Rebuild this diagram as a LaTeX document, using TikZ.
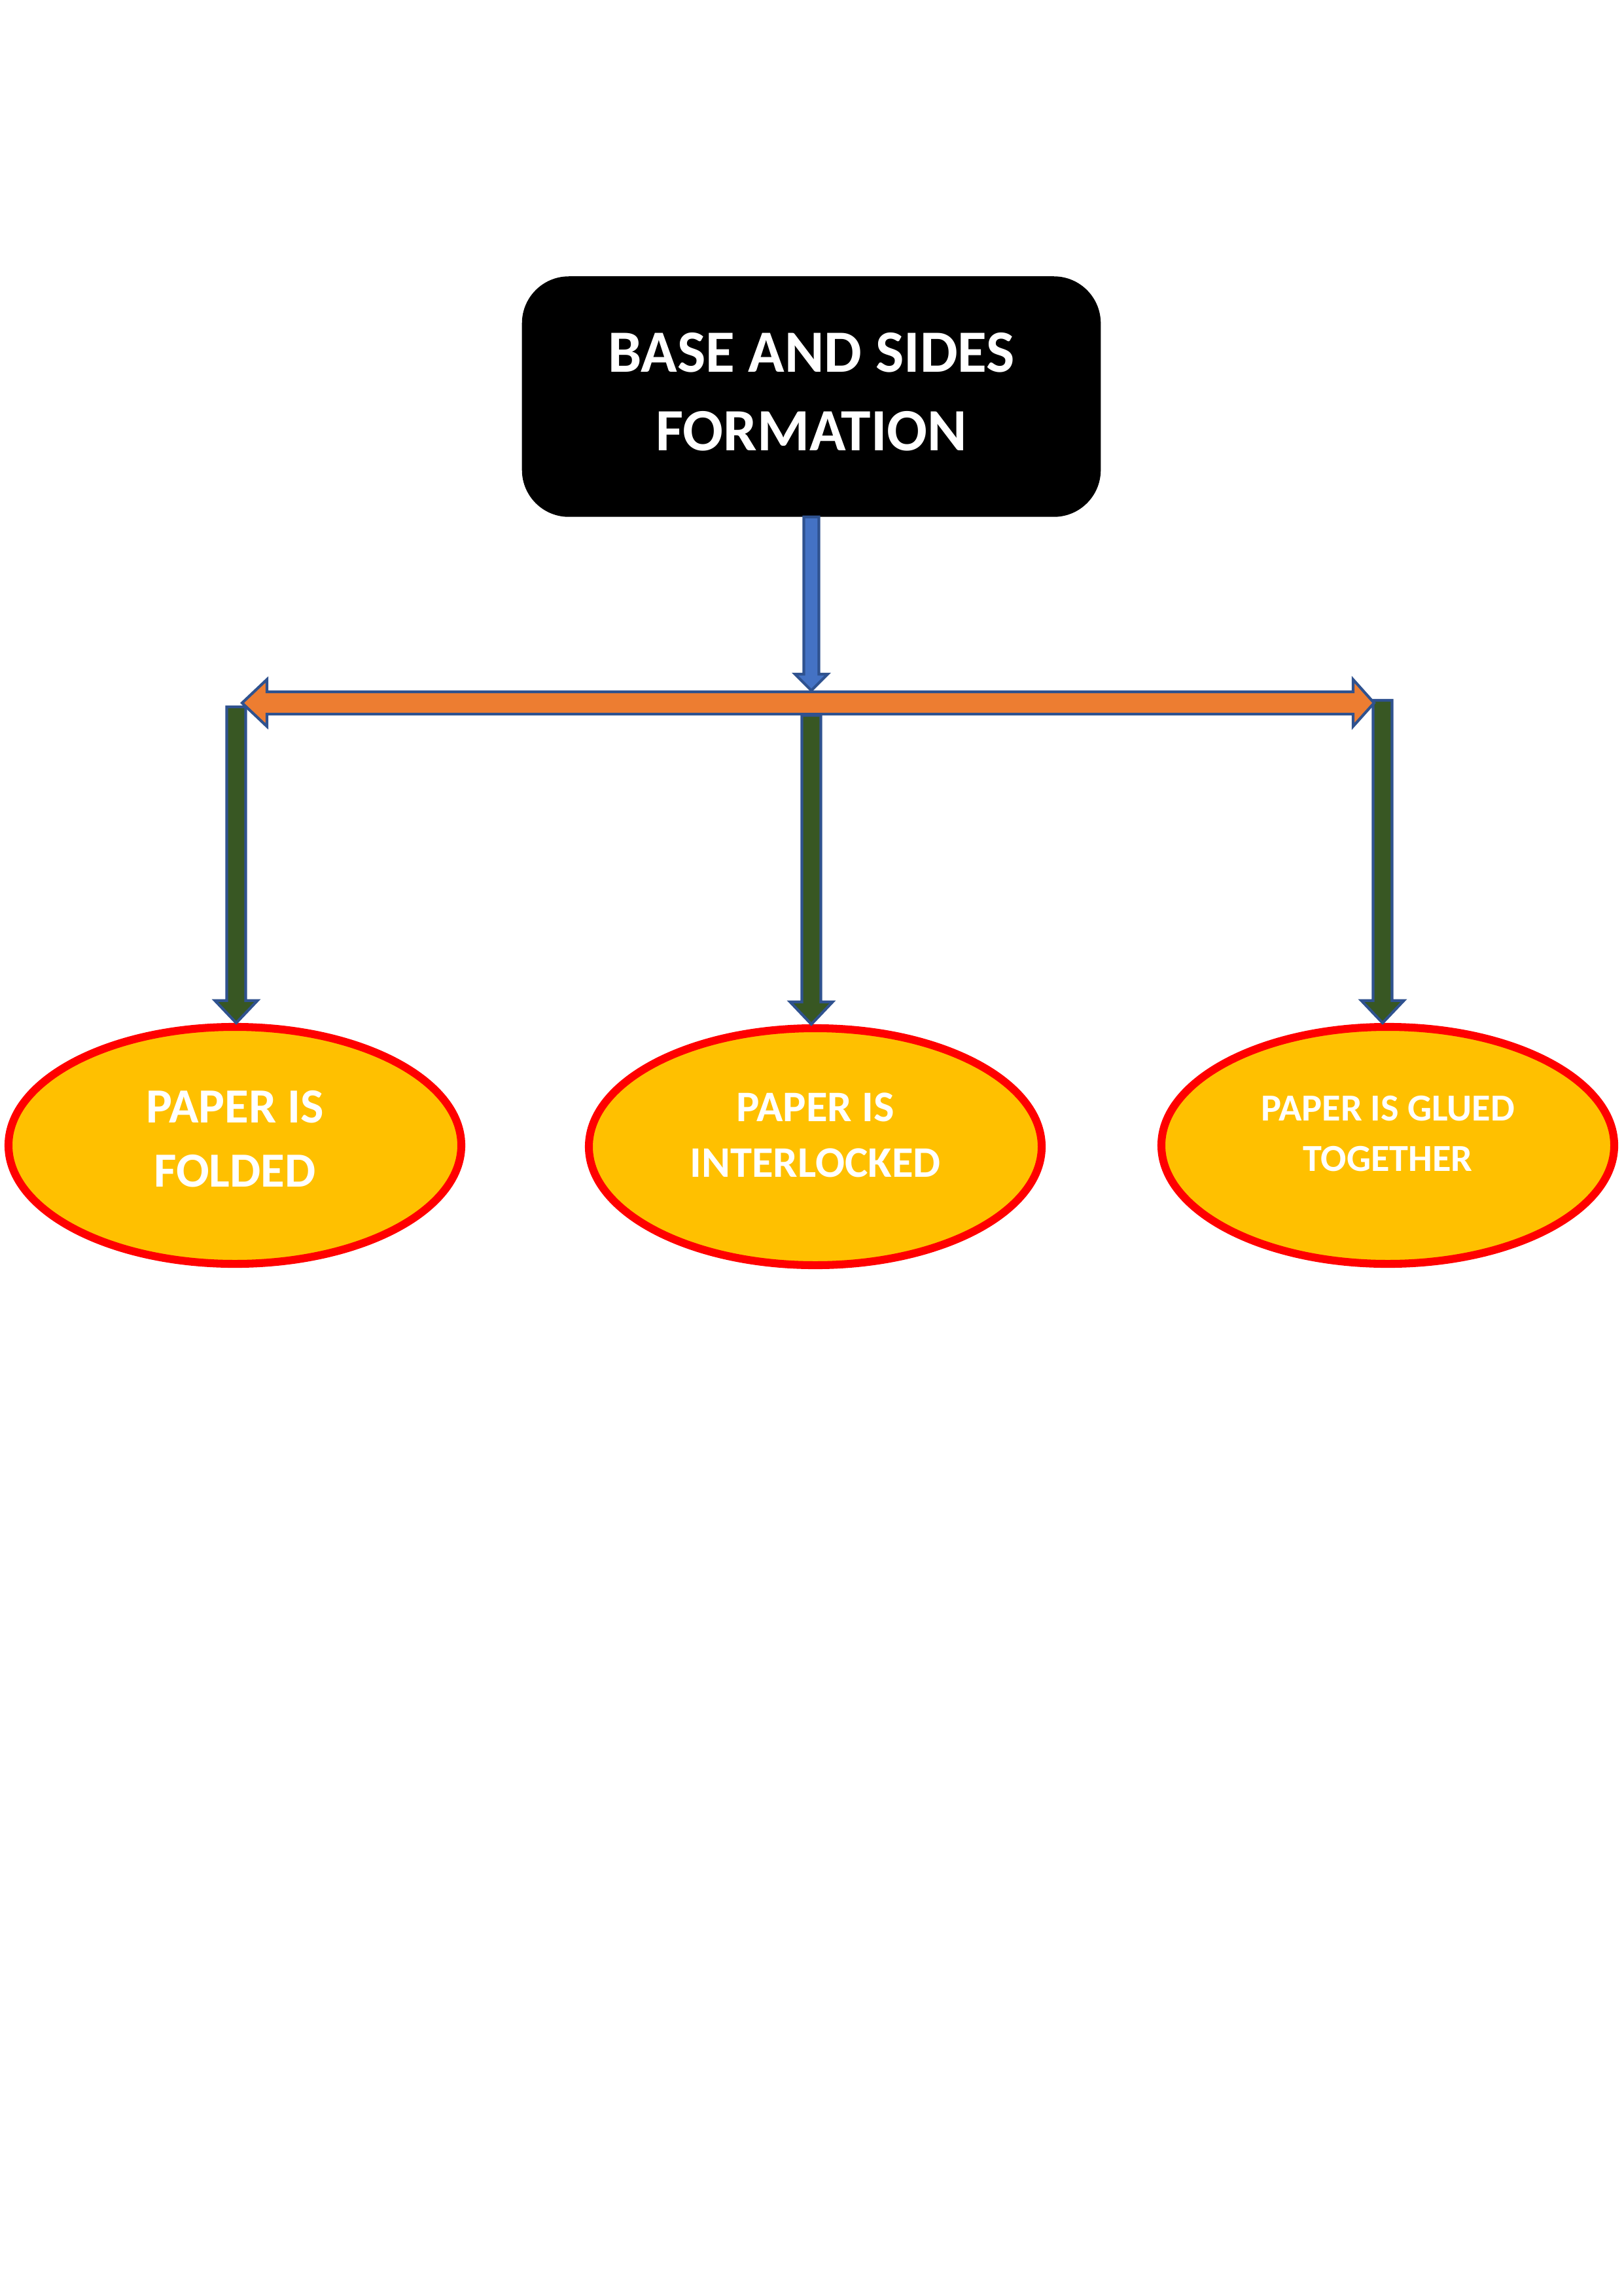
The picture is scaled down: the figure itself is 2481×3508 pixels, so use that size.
\documentclass[tikz,border=0pt]{standalone}
\usepackage{fontspec}
\setmainfont{Carlito}
\usetikzlibrary{calc,shapes.geometric}
\definecolor{outlineblue}{HTML}{2F528F}
\definecolor{fillblue}{HTML}{4472C4}
\definecolor{fillorange}{HTML}{ED7D31}
\definecolor{fillgreen}{HTML}{385723}
\definecolor{fillyellow}{HTML}{FFC000}
\definecolor{ringred}{HTML}{FF0000}
\newcommand\myDownArrow[6]{%
  \draw[#6] let \p1=(#1), \p2=(#2) in
    (\x1-#3,\y1) -- (\x1+#3,\y1) -- (\x1+#3,\y2+#5) -- (\x1+#4,\y2+#5) --
    (\x1,\y2) -- (\x1-#4,\y2+#5) -- (\x1-#3,\y2+#5) -- cycle;}
\tikzset{
  topbox/.style={draw=black, fill=black, rounded corners=17pt, minimum width=211.9pt,
    minimum height=87.8pt, inner sep=0pt, align=center, text=white,
    font=\fontsize{22}{28.8}\selectfont\bfseries},
  oval/.style={ellipse, draw=ringred, fill=fillyellow, line width=2.9pt,
    minimum width=166.1pt, minimum height=86.9pt, inner sep=0pt, align=center, text=white},
  bluearrow/.style={draw=outlineblue, fill=fillblue, line width=1pt, line join=miter},
  greenarrow/.style={draw=outlineblue, fill=fillgreen, line width=1pt, line join=miter},
  orangearrow/.style={draw=outlineblue, fill=fillorange, line width=1pt, line join=miter},
}
\begin{document}
\begin{tikzpicture}[x=0.24pt, y=-0.24pt]
\useasboundingbox (0,0) rectangle (2481,3508);

\node[topbox, text depth=3.4pt] (top) at (1240,606) {BASE AND SIDES\\FORMATION};

\node[oval, text depth=4.8pt, font=\fontsize{18}{23.5}\selectfont\bfseries] (e1) at (359,1750) {PAPER IS\\FOLDED};
\node[oval, text depth=8.6pt, font=\fontsize{16}{20.6}\selectfont\bfseries] (e2) at (1246,1752) {PAPER IS\\INTERLOCKED};
\node[oval, text depth=8.6pt, font=\fontsize{14}{18.5}\selectfont\bfseries] (e3) at (2121,1750) {PAPER IS GLUED\\TOGETHER};

\coordinate (gL) at (361,1080);
\coordinate (gM) at (1240,1093);
\coordinate (gR) at (2113,1070);
\coordinate (barL) at (370,1074);
\coordinate (barR) at (2100,1074);
\coordinate (bstart) at (top.south);
\coordinate (btip) at (1240,1055);

% green down arrows
\myDownArrow{gL}{e1.north}{3.48pt}{7.8pt}{8.2pt}{greenarrow}
\myDownArrow{gM}{e2.north}{3.48pt}{7.8pt}{8.2pt}{greenarrow}
\myDownArrow{gR}{e3.north}{3.48pt}{7.8pt}{8.2pt}{greenarrow}

% orange double arrow
\draw[orangearrow] let \p1=(barL), \p2=(barR) in
  (\x1,\y1) -- (\x1+9.1pt,\y1+8.6pt) -- (\x1+9.1pt,\y1+4.1pt) -- (\x2-7.7pt,\y2+4.1pt) --
  (\x2-7.7pt,\y2+8.6pt) -- (\x2,\y2) -- (\x2-7.7pt,\y2-8.6pt) -- (\x2-7.7pt,\y2-4.1pt) --
  (\x1+9.1pt,\y1-4.1pt) -- (\x1+9.1pt,\y1-8.6pt) -- cycle;

% blue down arrow
\myDownArrow{bstart}{btip}{2.76pt}{6pt}{6pt}{bluearrow}
\end{tikzpicture}
\end{document}
